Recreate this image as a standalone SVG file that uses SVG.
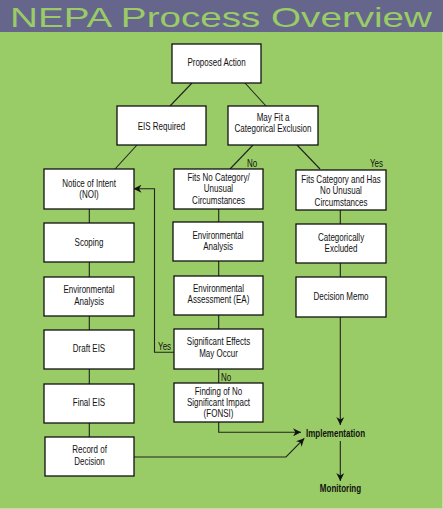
<svg xmlns="http://www.w3.org/2000/svg" width="443" height="509" viewBox="0 0 443 509">
<style>
.box{fill:#fff;stroke:#111;stroke-width:1.3}
.t,.lbl,.b{font-family:"Liberation Sans",Arial,sans-serif;font-size:10px;text-anchor:middle;fill:#111;transform-box:fill-box;transform-origin:center;transform:scaleX(0.8)}
.b{font-weight:bold}
.c{fill:none;stroke:#222;stroke-width:1.1}
</style>
<defs>
<marker id="arr" viewBox="0 0 10 10" refX="10" refY="5" markerWidth="9" markerHeight="8" markerUnits="userSpaceOnUse" orient="auto">
<path d="M0,0 L10,5 L0,10 L3,5 z" fill="#111"/>
</marker>
</defs>
<rect x="0" y="0" width="443" height="509" fill="#99cc66"/>
<rect x="0" y="0" width="443" height="32" fill="#66668c"/>
<line x1="442.5" y1="32" x2="442.5" y2="509" stroke="#bfe0a0" stroke-width="1"/>
<line x1="0" y1="508.5" x2="443" y2="508.5" stroke="#bfe0a0" stroke-width="1"/>
<text x="10" y="27" font-family="'Liberation Sans',Arial,sans-serif" font-size="28" fill="#99cc66" textLength="422" lengthAdjust="spacingAndGlyphs">NEPA Process Overview</text>

<g id="connectors">
<line class="c" x1="192" y1="83" x2="170" y2="106"/>
<line class="c" x1="245" y1="83" x2="266" y2="106"/>
<line class="c" x1="137" y1="145" x2="115" y2="169"/>
<line class="c" x1="253" y1="145" x2="230" y2="169"/>
<line class="c" x1="297" y1="145" x2="320" y2="169"/>
<line class="c" x1="89.3" y1="209" x2="89.3" y2="223"/>
<line class="c" x1="89.3" y1="262" x2="89.3" y2="277"/>
<line class="c" x1="89.3" y1="316" x2="89.3" y2="330"/>
<line class="c" x1="89.3" y1="369" x2="89.3" y2="384"/>
<line class="c" x1="89.3" y1="423" x2="89.3" y2="437"/>
<line class="c" x1="218.7" y1="209" x2="218.7" y2="222"/>
<line class="c" x1="218.7" y1="261" x2="218.7" y2="276"/>
<line class="c" x1="218.7" y1="315" x2="218.7" y2="329"/>
<line class="c" x1="218.7" y1="369" x2="218.7" y2="383"/>
<line class="c" x1="340.3" y1="210" x2="340.3" y2="224"/>
<line class="c" x1="340.3" y1="263" x2="340.3" y2="277"/>
<polyline class="c" points="340.3,317 340.3,425" marker-end="url(#arr)"/>
<polyline class="c" points="174,352.3 154.5,352.3 154.5,188.7 133.5,188.7" marker-end="url(#arr)"/>
<polyline class="c" points="218.7,422 218.7,432.3 301,432.3" marker-end="url(#arr)"/>
<polyline class="c" points="134,457 286,457 304.3,438.3" marker-end="url(#arr)"/>
<polyline class="c" points="340.3,441 340.3,481" marker-end="url(#arr)"/>
<text class="lbl" x="252" y="167.5">No</text>
<text class="lbl" x="376.5" y="167.5">Yes</text>
<text class="lbl" x="164.5" y="350">Yes</text>
<text class="lbl" x="226" y="381">No</text>
</g>

<g id="proposed-action"><rect class="box" x="172" y="44" width="89" height="39"/><text class="t" x="216.5" y="66.5">Proposed Action</text></g>
<g id="eis-required"><rect class="box" x="117" y="106" width="89" height="39"/><text class="t" x="161.5" y="130.5">EIS Required</text></g>
<g id="may-fit"><rect class="box" x="228" y="106" width="90" height="39"/><text class="t" x="273" y="121">May Fit a</text><text class="t" x="273" y="132">Categorical Exclusion</text></g>

<g id="noi"><rect class="box" x="44" y="169" width="90" height="40"/><text class="t" x="89" y="187">Notice of Intent</text><text class="t" x="89" y="198.5">(NOI)</text></g>
<g id="scoping"><rect class="box" x="44" y="223" width="90" height="39"/><text class="t" x="89" y="246">Scoping</text></g>
<g id="env-analysis-left"><rect class="box" x="44" y="277" width="90" height="39"/><text class="t" x="89" y="293.5">Environmental</text><text class="t" x="89" y="305">Analysis</text></g>
<g id="draft-eis"><rect class="box" x="44" y="330" width="90" height="39"/><text class="t" x="89" y="352.5">Draft EIS</text></g>
<g id="final-eis"><rect class="box" x="44" y="384" width="90" height="39"/><text class="t" x="89" y="406">Final EIS</text></g>
<g id="record-of-decision"><rect class="box" x="45" y="437" width="89" height="39"/><text class="t" x="89.5" y="453.5">Record of</text><text class="t" x="89.5" y="465">Decision</text></g>

<g id="fits-no-category"><rect class="box" x="174" y="169" width="89" height="40"/><text class="t" x="218.5" y="181">Fits No Category/</text><text class="t" x="218.5" y="192.5">Unusual</text><text class="t" x="218.5" y="204">Circumstances</text></g>
<g id="env-analysis-mid"><rect class="box" x="173" y="222" width="90" height="39"/><text class="t" x="218" y="239">Environmental</text><text class="t" x="218" y="250.5">Analysis</text></g>
<g id="ea"><rect class="box" x="174" y="276" width="89" height="39"/><text class="t" x="218.5" y="292">Environmental</text><text class="t" x="218.5" y="303">Assessment (EA)</text></g>
<g id="significant-effects"><rect class="box" x="174" y="329" width="89" height="40"/><text class="t" x="218.5" y="345">Significant Effects</text><text class="t" x="218.5" y="357">May Occur</text></g>
<g id="fonsi"><rect class="box" x="174" y="383" width="89" height="39"/><text class="t" x="218.5" y="395">Finding of No</text><text class="t" x="218.5" y="406.5">Significant Impact</text><text class="t" x="218.5" y="417.5">(FONSI)</text></g>

<g id="fits-category"><rect class="box" x="296" y="170" width="90" height="40"/><text class="t" x="341" y="183">Fits Category and Has</text><text class="t" x="341" y="194.5">No Unusual</text><text class="t" x="341" y="206">Circumstances</text></g>
<g id="categorically-excluded"><rect class="box" x="296" y="224" width="90" height="39"/><text class="t" x="341" y="241">Categorically</text><text class="t" x="341" y="252.5">Excluded</text></g>
<g id="decision-memo"><rect class="box" x="296" y="277" width="90" height="40"/><text class="t" x="341" y="300.5">Decision Memo</text></g>

<g id="implementation"><text class="b" x="335.5" y="437">Implementation</text></g>
<g id="monitoring"><text class="b" x="340.5" y="492">Monitoring</text></g>
</svg>
